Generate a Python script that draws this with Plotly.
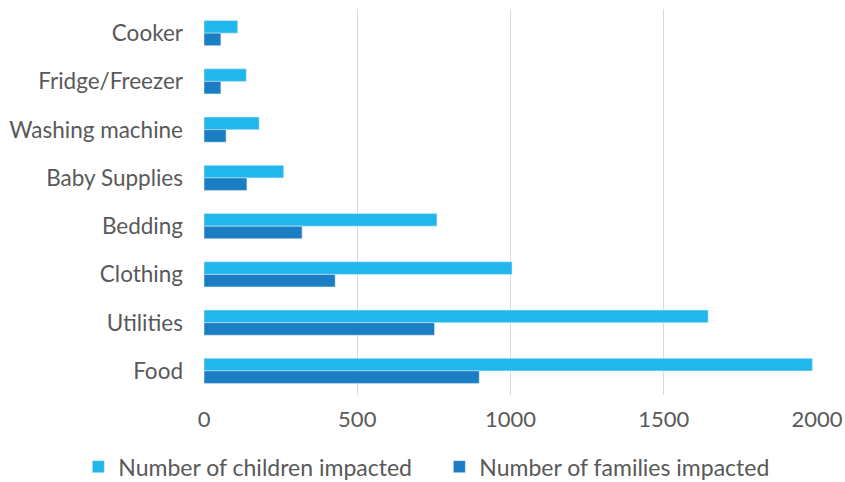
import plotly.graph_objects as go

categories = ["Cooker", "Fridge/Freezer", "Washing machine", "Baby Supplies",
              "Bedding", "Clothing", "Utilities", "Food"]
children = [110, 138, 180, 260, 760, 1005, 1645, 1985]
families = [55, 55, 72, 140, 320, 428, 752, 898]
x_ticks = [0, 500, 1000, 1500, 2000]

fig = go.Figure()
fig.add_trace(go.Bar(y=categories, x=children, orientation="h",
                     name="Number of children impacted", marker_color="#20B7EC"))
fig.add_trace(go.Bar(y=categories, x=families, orientation="h",
                     name="Number of families impacted", marker_color="#1B7EC3"))

def f(size):
    return dict(family="Lato, sans-serif", size=size, color="#595959")

fig.update_layout(
    width=845, height=482,
    margin=dict(l=204, r=28, t=9, b=87, autoexpand=False),
    barmode="group", bargap=0.48, bargroupgap=0,
    plot_bgcolor="white", paper_bgcolor="white",
    font=f(22),
    xaxis=dict(range=[0, 2000], tickvals=x_ticks, showgrid=True,
               gridcolor="#D9D9D9", gridwidth=1, zeroline=False,
               showline=False, ticks="", tickfont=f(22), ticklabelstandoff=9,
               automargin=False),
    yaxis=dict(autorange="reversed", showgrid=False, zeroline=False,
               showline=False, ticks="", tickfont=f(22.5), ticklabelstandoff=20,
               automargin=False),
    legend=dict(orientation="h", x=-0.205, xanchor="left", y=-0.13,
                yanchor="top", font=f(23), entrywidth=316, entrywidthmode="pixels",
                traceorder="normal"),
    showlegend=True,
)
fig.write_html("out.html")
